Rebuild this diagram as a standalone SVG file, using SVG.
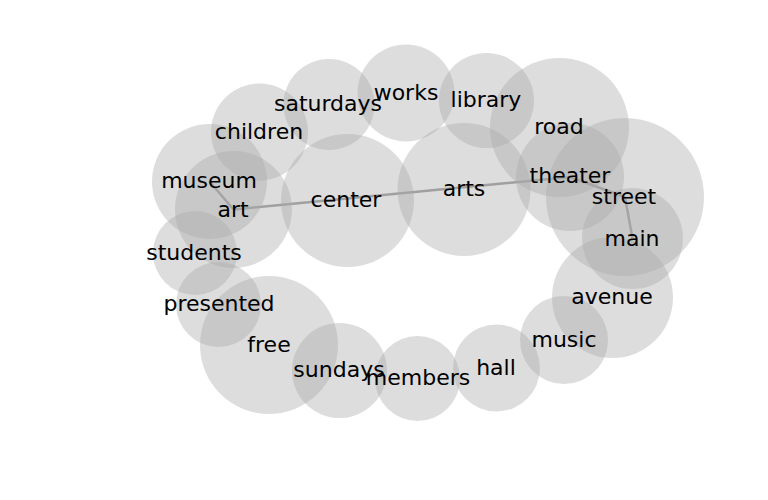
<svg xmlns="http://www.w3.org/2000/svg" width="768" height="500" viewBox="0 0 768 500">
<style>
.n circle{fill:#aaaaaa;fill-opacity:0.4;stroke:none}
.n text{font-family:"DejaVu Sans",sans-serif;font-size:22px;fill:#000;text-anchor:middle}
.e{stroke:#999999;stroke-width:2.5;fill:none}
</style>
<rect width="768" height="500" fill="#ffffff"/>
<g id="edges">
<line class="e" x1="233.5" y1="209.5" x2="570" y2="177"/>
<line class="e" x1="209.5" y1="181.5" x2="233.5" y2="209.5"/>
<line class="e" x1="570" y1="177" x2="625" y2="197"/>
<line class="e" x1="625" y1="197" x2="632.5" y2="238.5"/>
</g>
<g id="works" class="n"><circle cx="406" cy="93" r="48.5"/></g>
<g id="library" class="n"><circle cx="486.5" cy="100.5" r="47.5"/></g>
<g id="road" class="n"><circle cx="559.5" cy="127.5" r="69.5"/></g>
<g id="theater" class="n"><circle cx="570" cy="177" r="54"/></g>
<g id="street" class="n"><circle cx="625" cy="197" r="79"/></g>
<g id="main" class="n"><circle cx="632.5" cy="238.5" r="50.5"/></g>
<g id="avenue" class="n"><circle cx="612.5" cy="297.5" r="60.5"/></g>
<g id="music" class="n"><circle cx="564" cy="340" r="44"/></g>
<g id="hall" class="n"><circle cx="496.5" cy="368" r="43.5"/></g>
<g id="members" class="n"><circle cx="417.5" cy="378.5" r="42.5"/></g>
<g id="sundays" class="n"><circle cx="339.5" cy="370.5" r="47.5"/></g>
<g id="free" class="n"><circle cx="269" cy="345" r="69"/></g>
<g id="presented" class="n"><circle cx="218.5" cy="304.5" r="42.5"/></g>
<g id="students" class="n"><circle cx="195" cy="253" r="42"/></g>
<g id="museum" class="n"><circle cx="209.5" cy="181.5" r="57.5"/></g>
<g id="art" class="n"><circle cx="233.5" cy="209.5" r="58.5"/></g>
<g id="children" class="n"><circle cx="259.5" cy="132" r="48.5"/></g>
<g id="saturdays" class="n"><circle cx="329" cy="104.5" r="45.5"/></g>
<g id="center" class="n"><circle cx="347.5" cy="200.5" r="66.5"/></g>
<g id="arts" class="n"><circle cx="464" cy="189.5" r="66.5"/></g>
<g id="labels" class="n">
<text x="406" y="100">works</text>
<text x="486" y="107">library</text>
<text x="559" y="134">road</text>
<text x="570" y="183">theater</text>
<text x="624" y="204">street</text>
<text x="632" y="246">main</text>
<text x="612" y="304">avenue</text>
<text x="564" y="347">music</text>
<text x="496" y="375">hall</text>
<text x="418" y="385">members</text>
<text x="339" y="377">sundays</text>
<text x="269" y="352">free</text>
<text x="219" y="311">presented</text>
<text x="194" y="260">students</text>
<text x="209" y="188">museum</text>
<text x="233" y="217">art</text>
<text x="259" y="139">children</text>
<text x="328" y="111">saturdays</text>
<text x="346" y="207">center</text>
<text x="464" y="196">arts</text>
</g>
</svg>
